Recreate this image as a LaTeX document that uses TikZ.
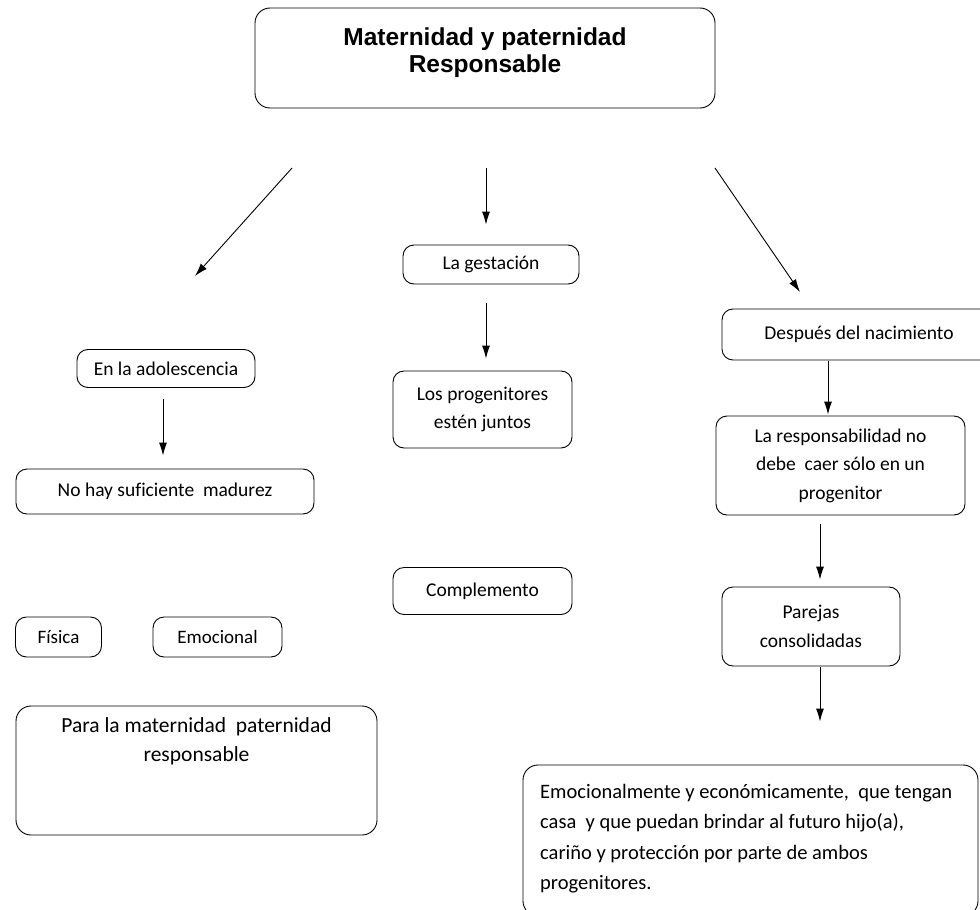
\documentclass[tikz,border=0pt]{standalone}
\usepackage{fontspec}
\usetikzlibrary{arrows.meta}
\setmainfont[Ligatures=NoCommon]{Carlito}
\newfontfamily\titlefont{Liberation Sans}
\begin{document}
\begin{tikzpicture}[>={Latex[length=13pt,width=8pt]}, x=1pt, y=-1pt,
  caja/.style={draw, rounded corners=11pt, line width=0.9pt, inner sep=0pt, align=center,
    font=\fontsize{19.5}{28.5}\selectfont},
  texto/.style={inner sep=0pt, align=center, font=\fontsize{19.5}{28.5}\selectfont},
  flecha/.style={->, line width=0.9pt}]
\useasboundingbox (0,0) rectangle (980,910);
\clip (0,0) rectangle (980,910);

% title
\node [caja, rounded corners=15pt, minimum width=460pt, minimum height=100pt] (titulo) at (485,58) {};
\node [texto, font=\titlefont\bfseries\fontsize{24.5}{27}\selectfont] (tit) at (485,53)
  {Maternidad y paternidad\\Responsable};

% centre column
\node [caja, minimum width=176pt, minimum height=39pt] (gest) at (491,264.5) {La gestación};
\node [caja, minimum width=179pt, minimum height=77pt] (prog) at (482.5,409.5) {Los progenitores\\estén juntos};
\node [caja, minimum width=179pt, minimum height=47pt] (compl) at (482.5,591) {Complemento};

% left column
\node [caja, minimum width=178pt, minimum height=38pt] (adol) at (166,368.5) {En la adolescencia};
\node [caja, minimum width=298pt, minimum height=45pt] (madur) at (165,491.5) {No hay suficiente\ \ madurez};
\node [caja, minimum width=86pt, minimum height=40pt, font=\fontsize{19}{28}\selectfont] (fisica) at (58.5,637) {Física};
\node [caja, minimum width=129pt, minimum height=40pt, font=\fontsize{19}{28}\selectfont] (emoc) at (217.5,637) {Emocional};
\node [caja, rounded corners=15pt, minimum width=361pt, minimum height=129pt] (para) at (196.5,770.5) {};
\node [texto, anchor=north, font=\fontsize{21.5}{29}\selectfont] (paratxt) at ([yshift=-12pt]para.north)
  {Para la maternidad\ \ paternidad\\responsable};

% right column
\node [caja, minimum width=274pt, minimum height=51pt] (nac) at (859,334.5) {Después del nacimiento};
\node [caja, minimum width=249pt, minimum height=99pt] (resp) at (840.5,465.5)
  {La responsabilidad no\\debe\ \ caer sólo en un\\progenitor};
\node [caja, minimum width=178pt, minimum height=79pt] (parej) at (811,626.5) {Parejas\\consolidadas};
\node [caja, rounded corners=15pt, minimum width=455pt, minimum height=151pt] (final) at (750.5,840.5) {};
\node [texto, anchor=north west, align=left, font=\fontsize{20.5}{30.5}\selectfont] (finaltxt) at (540,784)
  {Emocionalmente y económicamente,\ \ que tengan\\casa\ \ y que puedan brindar al futuro hijo(a),\\cariño y protección por parte de ambos\\progenitores.};

% arrows
\coordinate (c) at (486,0);
\coordinate (l1) at (292,168);
\coordinate (l2) at (195,276);
\coordinate (r1) at (715,168);
\coordinate (r2) at (800,292);
\draw [flecha] (l1)--(l2);
\draw [flecha] (r1)--(r2);
\draw [flecha, shorten <=60pt, shorten >=20pt] (titulo.south -| c)--(gest.north -| c);
\draw [flecha, shorten <=19pt, shorten >=12pt] (gest.south -| c)--(prog.north -| c);
\draw [flecha, shorten <=11pt, shorten >=13pt] (adol.south -| 163,0)--(madur.north -| 163,0);
\draw [flecha, shorten <=1pt, shorten >=1pt] (nac.south -| 828,0)--(resp.north -| 828,0);
\draw [flecha, shorten <=9pt, shorten >=7pt] (resp.south -| 820,0)--(parej.north -| 820,0);
\draw [flecha, shorten <=1pt, shorten >=43pt] (parej.south -| 820,0)--(final.north -| 820,0);
\end{tikzpicture}
\end{document}
